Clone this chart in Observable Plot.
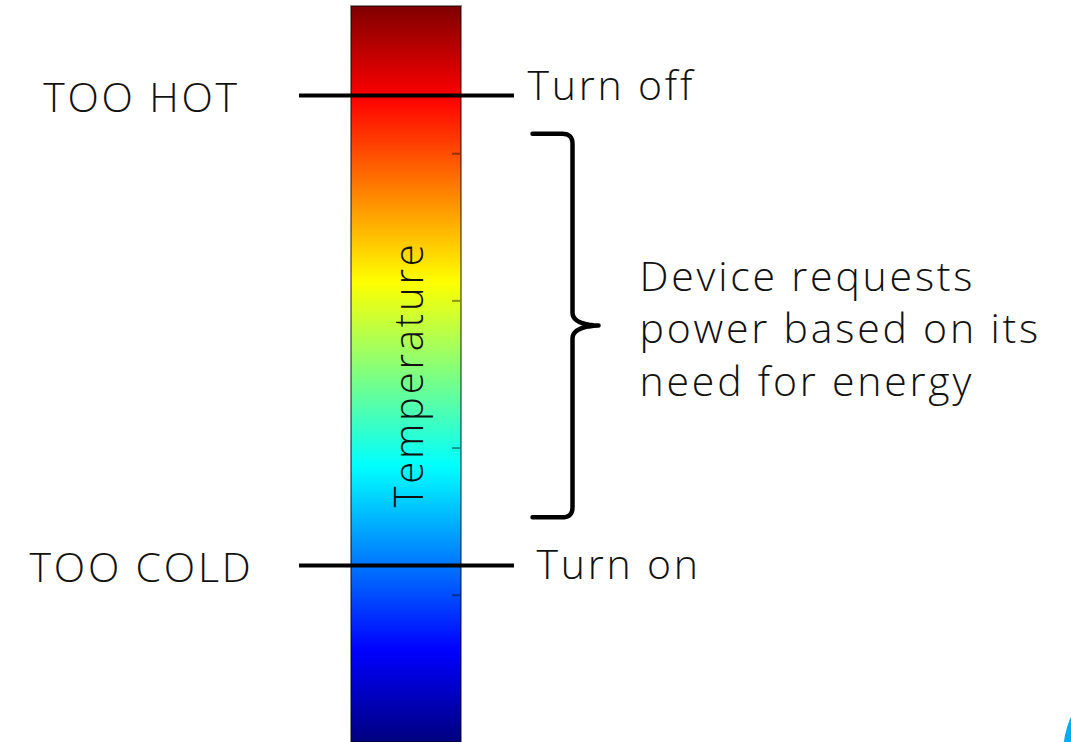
<!DOCTYPE html>
<html>
<head>
<meta charset="utf-8">
<script src="https://cdn.jsdelivr.net/npm/d3@7"></script>
<script src="https://cdn.jsdelivr.net/npm/@observablehq/plot@0.6"></script>
<style>
  html, body { margin: 0; padding: 0; background: #fff; overflow: hidden; }
  #chart svg { display: block; }
  #chart svg text { letter-spacing: 2.8px; }
</style>
</head>
<body>
<div id="chart"></div>
<script>
// ---- data ----
const jetPositions = [0, 0.125, 0.375, 0.625, 0.875, 1];
const jetColors = ["#00007f", "#0000ff", "#00ffff", "#ffff00", "#ff0000", "#7f0000"];
const thresholdTemps = [0.879, 0.2405];
const thresholdLabels = ["TOO HOT", "TOO COLD"];
const actionLabels = ["Turn off", "Turn on"];
const barTicks = [0.2, 0.4, 0.6, 0.8];
const braceRange = [0.306, 0.827];
const braceText = ["Device requests", "power based on its", "need for energy"];
const barLabel = "Temperature";

// ---- layout ----
const W = 1071, H = 742;
const L = {
  barX1: 351, barX2: 461, barTop: 6, barBottom: 742,
  labelX: 141, ruleX1: 299, ruleX2: 514,
  actionX: [527, 536], actionDy: [-9, 0],
  braceEnd: 532, braceSpine: 572, braceTip: 598,
  textX: 639, tempX: 410,
  logoX: 1143, logoY: 750, logoR: 80
};
const font = "Open Sans";
const fs = 41;
const yPx = d3.scaleLinear([0, 1], [L.barBottom, L.barTop]);

// brace geometry (pixel space -> temperature units)
function quad(p0, c, p1, n) {
  const out = [];
  for (let k = 0; k <= n; k++) {
    const t = k / n, u = 1 - t;
    out.push([u*u*p0[0] + 2*u*t*c[0] + t*t*p1[0], u*u*p0[1] + 2*u*t*c[1] + t*t*p1[1]]);
  }
  return out;
}
const T = yPx(braceRange[1]), B = yPx(braceRange[0]), M = (T + B) / 2;
const xs = L.braceSpine, r = 10;
const bracePx = [
  [L.braceEnd, T],
  ...quad([xs - r, T], [xs, T], [xs, T + r], 10),
  ...quad([xs, M - 13], [xs, M - 1], [L.braceTip, M], 10),
  ...quad([L.braceTip, M], [xs, M + 1], [xs, M + 13], 10),
  ...quad([xs, B - r], [xs, B], [xs - r, B], 10),
  [L.braceEnd, B]
];
const bracePts = bracePx.map(([x, y]) => ({x, y: yPx.invert(y)}));

const thresholds = thresholdTemps.map((t, i) => ({
  temp: t, label: thresholdLabels[i], action: actionLabels[i],
  ax: L.actionX[i], ay: yPx.invert(yPx(t) + L.actionDy[i])
}));

const chart = Plot.plot({
  width: W, height: H,
  margin: 0,
  x: {domain: [0, W], range: [0, W], axis: null},
  y: {domain: [0, 1], range: [L.barBottom, L.barTop], axis: null},
  style: {background: "#fff", fontFamily: font},
  marks: [
    Plot.rect([barLabel], {
      x1: () => L.barX1, x2: () => L.barX2, y1: () => 0, y2: () => 1,
      fill: "url(#jet)", stroke: "#000", strokeOpacity: 0.45, strokeWidth: 2
    }),
    Plot.ruleY(barTicks, {
      y: d => d, x1: () => L.barX2 - 9, x2: () => L.barX2 - 1,
      stroke: "#000", strokeOpacity: 0.4, strokeWidth: 2
    }),
    Plot.text([barLabel], {
      x: () => L.tempX, y: () => 0.5, text: d => d, rotate: -90,
      fontSize: 40, fontWeight: 300, fontFamily: font, fill: "#111", textAnchor: "middle"
    }),
    Plot.ruleY(thresholds, {
      y: "temp", x1: () => L.ruleX1, x2: () => L.ruleX2,
      stroke: "#000", strokeWidth: 4
    }),
    Plot.text(thresholds, {
      x: () => L.labelX, y: "temp", text: "label", dy: 3,
      fontSize: fs, fontWeight: 300, fontFamily: font, fill: "#111", textAnchor: "middle"
    }),
    Plot.text(thresholds, {
      x: "ax", y: "ay", text: "action",
      fontSize: fs, fontWeight: 300, fontFamily: font, fill: "#111", textAnchor: "start"
    }),
    Plot.line(bracePts, {
      x: "x", y: "y", stroke: "#000", strokeWidth: 4.5,
      strokeLinejoin: "round", curve: "linear"
    }),
    Plot.text([braceText.join("\n")], {
      x: () => L.textX, y: () => yPx.invert(M), text: d => d,
      lineHeight: 1.29, lineAnchor: "middle", dy: 1,
      fontSize: fs, fontWeight: 300, fontFamily: font, fill: "#111", textAnchor: "start"
    }),
    Plot.dot([0], {
      x: () => L.logoX, y: () => yPx.invert(L.logoY), r: L.logoR,
      fill: "#00aeef", stroke: null
    })
  ]
});

// jet gradient definition for the colour bar
const defs = d3.select(chart).insert("defs", ":first-child");
const grad = defs.append("linearGradient").attr("id", "jet")
  .attr("x1", 0).attr("y1", 1).attr("x2", 0).attr("y2", 0);
jetPositions.forEach((p, i) => grad.append("stop").attr("offset", p).attr("stop-color", jetColors[i]));

document.getElementById("chart").appendChild(chart);
</script>
</body>
</html>
